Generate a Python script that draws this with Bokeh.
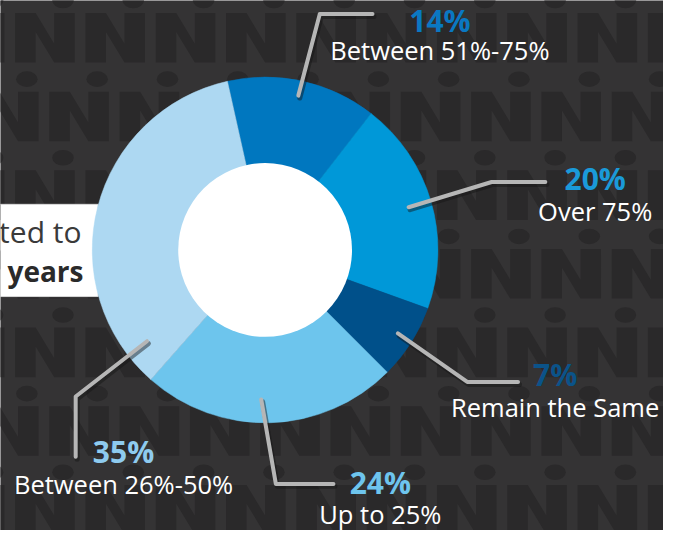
import numpy as np
from bokeh.plotting import figure
from bokeh.models import Range1d, ColumnDataSource
from bokeh.core.properties import value
from bokeh.embed import file_html
from bokeh.resources import INLINE

# ---------------- data ----------------
categories = ["Between 51%-75%", "Over 75%", "Remain the Same", "Up to 25%", "Between 26%-50%"]
shares = [14, 20, 7, 24, 35]
slice_colors = ["#0077bf", "#0098d8", "#00508a", "#6dc5ed", "#add8f2"]
label_colors = ["#0a78c2", "#1a9ad9", "#0b5389", "#6ec5ee", "#8ecbef"]
box_lines = ["ted to", "years"]

# ---------------- layout (reference pixel coordinates) ----------------
W, H = 679, 546
def Y(v):
    return H - np.asarray(v, dtype=float)

def base_y(v, fs):
    # SVG text sits ~0.35em lower than the requested alphabetic baseline
    return list(Y(v) + 0.35 * fs)

cx, cy = 271, 257
r_out, r_in = 177, 89
theta0 = -12.6  # clockwise from 12 o'clock, start of first slice

label_cx = [450, 609, 568, 389, 126]
pct_base = [31, 194, 396, 507, 475]
cat_base = [60, 226, 428, 538, 507]
leaders = [
    [(305, 98), (327, 14), (381, 14)],
    [(418, 213), (503, 187), (558, 187)],
    [(407, 343), (478, 393), (530, 393)],
    [(267, 411), (282, 498), (341, 498)],
    [(150, 351), (77, 408), (77, 470)],
]

BG = "#343334"
PAT = "#2a292a"
FONT = value("Open Sans")
PCT_FS, CAT_FS = 30, 25.5

p = figure(width=663, height=530, x_range=Range1d(0, W), y_range=Range1d(0, H),
           output_backend="svg", toolbar_location=None, min_border=0,
           x_axis_type=None, y_axis_type=None,
           background_fill_color=BG, border_fill_color=BG)
p.grid.visible = False
p.outline_line_color = None

# ---------------- background pattern ----------------
nw, nh, st = 61, 51, 21
shape = [(0, nh), (0, 0), (st, 0), (nw - st, nh * 0.62), (nw - st, 0), (nw, 0),
         (nw, nh), (nw - st, nh), (st, nh * 0.38), (st, nh)]
nxs, nys, dxs, dys = [], [], [], []
for j in range(-1, 8):
    top = 13 + 81 * j
    off = 15 + 35 * (j % 2)
    for k in range(-1, 10):
        L = off + 72 * k
        nxs.append([L + a for a, b in shape])
        nys.append(list(Y([top + b for a, b in shape])))
        dxs.append(L + 49)
        dys.append(float(Y(top - 13)))
p.patches(xs=nxs, ys=nys, fill_color=PAT, line_color=None)
p.ellipse(x=dxs, y=dys, width=22, height=16, fill_color=PAT, line_color=None)

# ---------------- white box on the left ----------------
p.quad(left=-20, right=100, top=float(Y(210)), bottom=float(Y(305)),
       fill_color="white", line_color="#d8d8d8", line_width=1)
p.text(x=[83], y=base_y([248], 30), text=box_lines[:1],
       text_font=FONT, text_font_size="30px", text_color="#3a3a3a",
       text_align="right", text_baseline="alphabetic")
p.text(x=[85], y=base_y([288], 28), text=box_lines[1:],
       text_font=FONT, text_font_size="28px", text_font_style="bold",
       text_color="#2a2a2a", text_align="right", text_baseline="alphabetic")

# ---------------- donut ----------------
tot = float(sum(shares))
cum = np.concatenate([[0], np.cumsum(shares)])
t_start = theta0 + 360 * cum[:-1] / tot
t_end = theta0 + 360 * cum[1:] / tot
src = ColumnDataSource(dict(
    start=np.radians(90 - t_start), end=np.radians(90 - t_end),
    color=slice_colors, cat=categories))
p.wedge(x=cx, y=float(Y(cy)), radius=r_out, start_angle="start", end_angle="end",
        direction="clock", fill_color="color", line_color="color", line_width=0.5, source=src)
p.circle(x=[cx], y=[float(Y(cy))], radius=r_in, fill_color="white", line_color=None)

# ---------------- leader lines ----------------
lx = [[a for a, b in l] for l in leaders]
ly = [list(Y([b for a, b in l])) for l in leaders]
p.multi_line(xs=[[a + 1.5 for a in x] for x in lx], ys=[[b - 2.5 for b in y] for y in ly],
             line_color="#151515", line_alpha=0.45, line_width=5,
             line_cap="round", line_join="round")
p.multi_line(xs=lx, ys=ly, line_color="#b6b6b6", line_width=4,
             line_cap="round", line_join="round")

# ---------------- labels ----------------
p.text(x=label_cx, y=base_y(pct_base, PCT_FS), text=[f"{v}%" for v in shares],
       text_color=label_colors, text_font=FONT, text_font_size=f"{PCT_FS}px",
       text_font_style="bold", text_align="center", text_baseline="alphabetic")
p.text(x=label_cx, y=base_y(cat_base, CAT_FS), text=categories,
       text_color="white", text_font=FONT, text_font_size=f"{CAT_FS}px",
       text_align="center", text_baseline="alphabetic")

open("out.html", "w").write(file_html(p, INLINE))
